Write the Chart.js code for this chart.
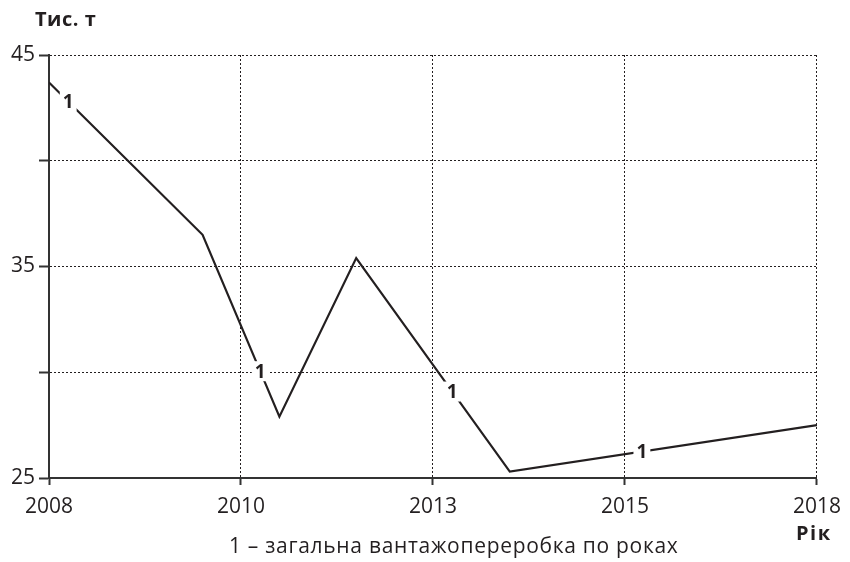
<!DOCTYPE html>
<html>
<head>
<meta charset="utf-8">
<script src="https://cdn.jsdelivr.net/npm/chart.js@4/dist/chart.umd.min.js"></script>
<style>
  html, body { margin: 0; padding: 0; background: #fff; }
  #wrap { position: relative; width: 850px; height: 562px; font-family: "Open Sans", sans-serif; color: #231f20; }
  canvas { position: absolute; left: 0; top: 0; }
  .t { position: absolute; white-space: nowrap; line-height: 1; }
</style>
</head>
<body>
<div id="wrap">
  <canvas id="c" width="850" height="562"></canvas>
  <div class="t" style="left:35px; top:9px; font-weight:700; font-size:20px; letter-spacing:0.5px;">Тис. т</div>
  <div class="t" style="left:796px; top:523px; font-weight:700; font-size:20px; letter-spacing:1.5px;">Рік</div>
  <div class="t" style="left:229px; top:535px; font-size:21px; letter-spacing:0.7px;">1 – загальна вантажопереробка по роках</div>
</div>
<script>
// Data
const years = [2008, 2010, 2011, 2012, 2014, 2018];
const cargo = [43.7, 36.5, 27.9, 35.4, 25.3, 27.5];
// Axis ticks
const xTicks = [2008, 2010.5, 2013, 2015.5, 2018];
const xTickLabels = ['2008', '2010', '2013', '2015', '2018'];
const yTicks = [25, 30, 35, 40, 45];
const yTickLabels = ['25', '', '35', '', '45'];
// Line label "1" positions (years along the line)
const lineLabelYears = [2008.25, 2010.75, 2013.25, 2015.72];
const lineLabelText = '1';

const points = years.map((x, i) => ({ x: x, y: cargo[i] }));

function interp(x) {
  for (let i = 0; i < years.length - 1; i++) {
    if (x >= years[i] && x <= years[i + 1]) {
      const t = (x - years[i]) / (years[i + 1] - years[i]);
      return cargo[i] + t * (cargo[i + 1] - cargo[i]);
    }
  }
  return cargo[cargo.length - 1];
}

const lineLabels = {
  id: 'lineLabels',
  afterDatasetsDraw(chart) {
    const ctx = chart.ctx;
    const xs = chart.scales.x, ys = chart.scales.y;
    ctx.save();
    ctx.font = 'bold 19px "Open Sans"';
    ctx.textAlign = 'center';
    ctx.textBaseline = 'middle';
    lineLabelYears.forEach(yr => {
      const px = xs.getPixelForValue(yr);
      const py = ys.getPixelForValue(interp(yr));
      const w = ctx.measureText(lineLabelText).width;
      ctx.fillStyle = '#fff';
      ctx.fillRect(px - w / 2 - 3, py - 10, w + 6, 20);
      ctx.fillStyle = '#231f20';
      ctx.fillText(lineLabelText, px, py + 1);
    });
    ctx.restore();
  }
};

new Chart(document.getElementById('c'), {
  type: 'line',
  data: {
    datasets: [{
      data: points,
      borderColor: '#231f20',
      borderWidth: 2.2,
      pointRadius: 0,
      tension: 0,
      fill: false
    }]
  },
  options: {
    responsive: false,
    animation: false,
    layout: { padding: { top: 55, right: 30, left: 0, bottom: 0 } },
    plugins: { legend: { display: false }, tooltip: { enabled: false } },
    scales: {
      x: {
        type: 'linear',
        min: 2008, max: 2018,
        afterBuildTicks(s) { s.ticks = xTicks.map(v => ({ value: v })); },
        afterFit(s) { s.height = 84; },
        ticks: {
          callback: (v) => { const i = xTicks.indexOf(v); return i >= 0 ? xTickLabels[i] : ''; },
          color: '#231f20',
          font: { family: 'Open Sans', size: 21 },
          padding: 9,
          maxRotation: 0,
          autoSkip: false
        },
        grid: { color: '#231f20', lineWidth: 1, tickLength: 7, tickColor: '#333', tickWidth: 2 },
        border: { display: true, color: '#333', width: 2, dash: [2, 2] }
      },
      y: {
        type: 'linear',
        min: 25, max: 45,
        afterBuildTicks(s) { s.ticks = yTicks.map(v => ({ value: v })); },
        afterFit(s) { s.width = 49; },
        ticks: {
          callback: (v) => { const i = yTicks.indexOf(v); return i >= 0 ? yTickLabels[i] : ''; },
          color: '#231f20',
          font: { family: 'Open Sans', size: 21 },
          padding: 4,
          autoSkip: false
        },
        grid: { color: '#231f20', lineWidth: 1, tickLength: 10, tickColor: '#333', tickWidth: 2 },
        border: { display: true, color: '#333', width: 2, dash: [2, 2] }
      }
    }
  },
  plugins: [lineLabels]
});
</script>
</body>
</html>
